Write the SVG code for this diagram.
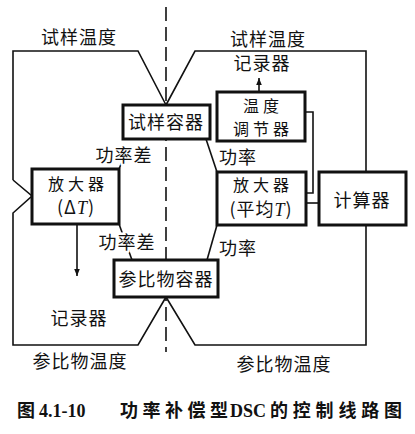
<svg xmlns="http://www.w3.org/2000/svg" width="415" height="434" viewBox="0 0 415 434">
<style>
text{font-family:"Noto Sans CJK SC","Noto Sans",sans-serif;font-size:18px;fill:#111;text-anchor:middle;letter-spacing:1px}
text.two{font-size:16px;letter-spacing:4px}
.box{fill:#fff;stroke:#111;stroke-width:3}
.ln{fill:none;stroke:#111;stroke-width:1.6}
.dash{fill:none;stroke:#111;stroke-width:1.6;stroke-dasharray:14 6}
.halo{stroke:#fff;stroke-width:5;paint-order:stroke;stroke-linejoin:round}
.it{font-family:"Liberation Serif",serif;font-style:italic}
.cap{font-weight:bold;font-size:18px;text-anchor:start;letter-spacing:0}
</style>
<defs>
<marker id="ah" viewBox="0 0 10 10" refX="10" refY="5" markerWidth="7" markerHeight="10" markerUnits="userSpaceOnUse" orient="auto">
<path d="M0,1 L10,5 L0,9 Z" fill="#111"/>
</marker>
<marker id="ah2" viewBox="0 0 10 10" refX="10" refY="5" markerWidth="14" markerHeight="7" markerUnits="userSpaceOnUse" orient="auto">
<path d="M0,1 L10,5 L0,9 Z" fill="#111"/>
</marker>
</defs>
<g id="connectors">
<path class="dash" d="M166,7 L166,352"/>
<path class="ln" d="M13,180 L13,51 L138,51 L166,105"/>
<path class="ln" d="M166,105 L195,51 L366,51 L366,172"/>
<path class="ln" d="M13,180 L32,196 L13,213 L13,345 L138,345 L166,297"/>
<path class="ln" d="M166,297 L195,345 L366,345 L366,225"/>
<path class="ln" d="M77,224 L77,276" marker-end="url(#ah2)"/>
<path class="ln" d="M259,92 L259,78" marker-end="url(#ah)"/>
<path class="ln" d="M306,112 L313,112 L313,193 L306,193"/>
<path class="ln" d="M306,203 L319,203"/>
<path class="ln" d="M206,139 L217,172"/>
<path class="ln" d="M217,225 L207,260"/>
<path class="ln" d="M119,169 L127,150"/>
<path class="ln" d="M119,224 L132,260"/>
</g>
<g id="labels">
<text x="79" y="44">试样温度</text>
<text x="268" y="46">试样温度</text>
<text x="262" y="70">记录器</text>
<text class="halo" x="124" y="162">功率差</text>
<text x="238" y="164">功率</text>
<text class="halo" x="127" y="249">功率差</text>
<text x="238" y="255">功率</text>
<text x="79" y="325">记录器</text>
<text x="80" y="368">参比物温度</text>
<text x="284" y="371">参比物温度</text>
</g>
<g id="sample-holder">
<rect class="box" x="123" y="105" width="87" height="34"/>
<text x="166" y="129">试样容器</text>
</g>
<g id="temp-controller">
<rect class="box" x="217" y="92" width="88" height="49"/>
<text class="two" x="263" y="112">温度</text>
<text class="two" x="263" y="135">调节器</text>
</g>
<g id="amp-delta">
<rect class="box" x="32" y="169" width="87" height="55"/>
<text class="two" x="78" y="190">放大器</text>
<text x="76" y="214">(Δ<tspan class="it">T</tspan>)</text>
</g>
<g id="amp-avg">
<rect class="box" x="217" y="172" width="89" height="53"/>
<text class="two" x="263" y="191">放大器</text>
<text x="261" y="216">(平均<tspan class="it">T</tspan>)</text>
</g>
<g id="computer">
<rect class="box" x="319" y="172" width="87" height="53"/>
<text x="362" y="207">计算器</text>
</g>
<g id="reference-holder">
<rect class="box" x="114" y="260" width="104" height="37"/>
<text x="166" y="286">参比物容器</text>
</g>
<g id="caption">
<text class="cap" x="17" y="417">图 <tspan font-family="Liberation Serif">4.1-10</tspan><tspan x="120" textLength="108">功率补偿型</tspan><tspan x="230" font-family="Liberation Serif">DSC</tspan><tspan x="270" textLength="132">的控制线路图</tspan></text>
</g>
</svg>
